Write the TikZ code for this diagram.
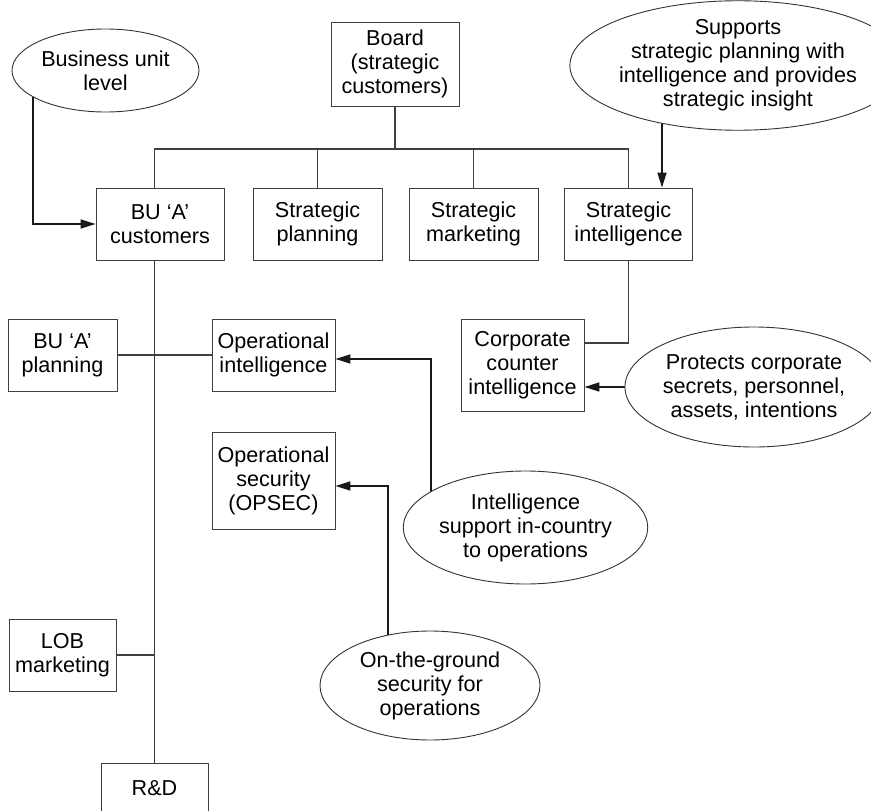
\documentclass[tikz,border=0pt]{standalone}
\usepackage{fontspec}
\setmainfont{Liberation Sans}
\usetikzlibrary{shapes.geometric,arrows.meta,backgrounds}
\tikzset{
  box/.style={draw=black!75, line width=0.9pt, fill=white, inner sep=0pt, align=center,
    font=\fontsize{21.6}{24}\selectfont},
  oval/.style={ellipse, draw=black!80, line width=0.9pt, fill=white, inner sep=0pt, align=center,
    font=\fontsize{21.6}{24}\selectfont},
  tree/.style={draw=black!75, line width=1.1pt},
  arr/.style={draw=black!90, line width=1.6pt, -{Triangle[length=15pt,width=9pt]}},
}
\begin{document}
\begin{tikzpicture}[x=1pt,y=-1pt]
\useasboundingbox (0,0) rectangle (871,811);
\clip (0,0) rectangle (871,811);
% column / row helper coordinates
\coordinate (c33) at (33,0);
\coordinate (c154) at (154.5,0);
\coordinate (c388) at (388,0);
\coordinate (c431) at (431,0);
\coordinate (c662) at (662,0);
\coordinate (bus) at (0,149);
\coordinate (r343) at (0,343);
\coordinate (r359) at (0,359);
\coordinate (r486) at (0,486);
% nodes
\node[box, minimum width=128pt, minimum height=84pt] (board) at (395,64) {Board\\(strategic\\customers)};
\node[oval, minimum width=187pt, minimum height=83pt] (buel) at (105.5,70.5) {Business unit\\level};
\node[oval, minimum width=264pt, minimum height=121pt] (sup) at (738,65.5) {Supports\\strategic planning with\\intelligence and provides\\strategic insight};
\node[box, minimum width=128pt, minimum height=72pt] (bucust) at (160,224) {BU `A'\\customers};
\node[box, minimum width=129pt, minimum height=72pt] (stplan) at (317.5,224) {Strategic\\planning};
\node[box, minimum width=129pt, minimum height=72pt] (stmkt) at (473.5,224) {Strategic\\marketing};
\node[box, minimum width=128pt, minimum height=72pt] (stint) at (628.5,224) {Strategic\\intelligence};
\node[box, minimum width=109pt, minimum height=72pt] (buplan) at (62.5,355) {BU `A'\\planning};
\node[box, minimum width=123pt, minimum height=72pt] (opint) at (273.5,355) {Operational\\intelligence};
\node[box, minimum width=123pt, minimum height=92pt] (cci) at (522.5,365) {Corporate\\counter\\intelligence};
\node[oval, minimum width=232pt, minimum height=120pt] (prot) at (754,387) {Protects corporate\\secrets, personnel,\\assets, intentions};
\node[box, minimum width=123pt, minimum height=97pt] (opsec) at (273.5,480.5) {Operational\\security\\(OPSEC)};
\node[oval, minimum width=225pt, minimum height=113pt] (isup) at (525.5,527.5) {Intelligence\\support in-country\\to operations};
\node[oval, minimum width=220pt, minimum height=109pt] (otg) at (430,685.5) {On-the-ground\\security for\\operations};
\node[box, minimum width=107pt, minimum height=72pt] (lob) at (62.5,655) {LOB\\marketing};
\node[box, minimum width=107pt, minimum height=50pt] (rnd) at (154.5,788) {R\&D};
% connectors
\begin{scope}[on background layer]
\draw[tree] (board.south) -- (board.south |- bus);
\draw[tree] (c154 |- bucust.north) -- (c154 |- bus) -- (stint.north |- bus) -- (stint.north);
\draw[tree] (stplan.north) -- (stplan.north |- bus);
\draw[tree] (stmkt.north) -- (stmkt.north |- bus);
\draw[tree] (c154 |- bucust.south) -- (c154 |- rnd.north);
\draw[tree] (buplan.east) -- (opint.west);
\draw[tree] (lob.east) -- (c154 |- lob.east);
\draw[tree] (stint.south) |- (cci.east |- r343);
\draw[arr] (c33 |- buel.center) |- (bucust.west);
\draw[arr] (c662 |- sup.center) -- (c662 |- stint.north);
\draw[arr] (prot.center) -- (cci.east |- prot.center);
\draw[arr] (c431 |- isup.center) |- (opint.east |- r359);
\draw[arr] (c388 |- otg.center) |- (opsec.east |- r486);
\end{scope}
\end{tikzpicture}
\end{document}
